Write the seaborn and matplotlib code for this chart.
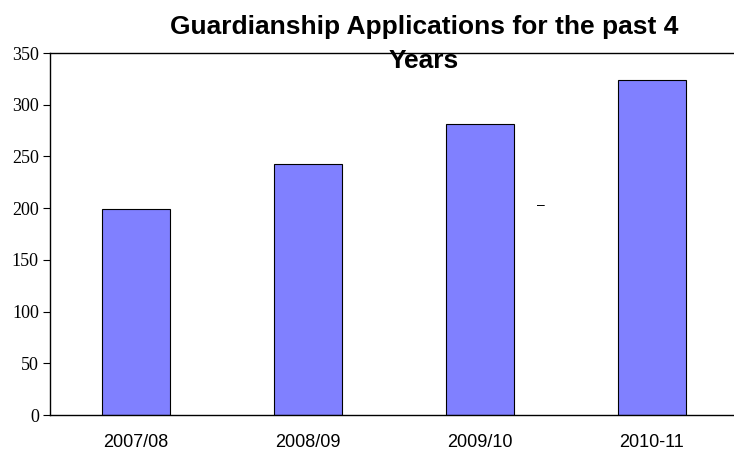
import matplotlib
matplotlib.use("Agg")
import matplotlib.pyplot as plt
import seaborn as sns
import pandas as pd

years = ["2007/08", "2008/09", "2009/10", "2010-11"]
applications = [199, 243, 281, 324]
y_ticks = [0, 50, 100, 150, 200, 250, 300, 350]

sns.set_theme(style="white")
plt.rcParams["font.family"] = ["Liberation Sans", "DejaVu Sans"]

df = pd.DataFrame({"year": years, "applications": applications})

fig = plt.figure(figsize=(7.34, 4.51), dpi=100)
ax = fig.add_axes([50 / 734, 1 - 415 / 451, 688 / 734, 362 / 451])

sns.barplot(data=df, x="year", y="applications", ax=ax, color="#8080FF",
            saturation=1, width=0.4, edgecolor="black", linewidth=0.8)

ax.set_ylim(0, 350)
ax.set_yticks(y_ticks)
ax.set_yticklabels([str(v) for v in y_ticks], family="Liberation Serif", fontsize=13)
ax.tick_params(axis="y", left=True, length=5, width=0.8, color="black", pad=3)
ax.tick_params(axis="x", bottom=False, length=0, labelsize=13, pad=14)
for lbl in ax.get_xticklabels():
    lbl.set_color("black")
for lbl in ax.get_yticklabels():
    lbl.set_color("black")
ax.set_xlabel("")
ax.set_ylabel("")
for side in ["left", "top", "bottom"]:
    ax.spines[side].set_visible(True)
    ax.spines[side].set_color("black")
    ax.spines[side].set_linewidth(1.0)
ax.spines["right"].set_visible(False)

# small stray dash to the right of the third bar
ax.text(0.713, 0.58, "–", transform=ax.transAxes, fontsize=10,
        ha="center", va="center", color="black")

fig.text(424 / 734, 1 - 27 / 451, "Guardianship Applications for the past 4",
         ha="center", va="center", fontsize=19, fontweight="bold", color="black")
fig.text(424 / 734, 1 - 61 / 451, "Years",
         ha="center", va="center", fontsize=19, fontweight="bold", color="black")

fig.savefig("out.png", dpi=100)
